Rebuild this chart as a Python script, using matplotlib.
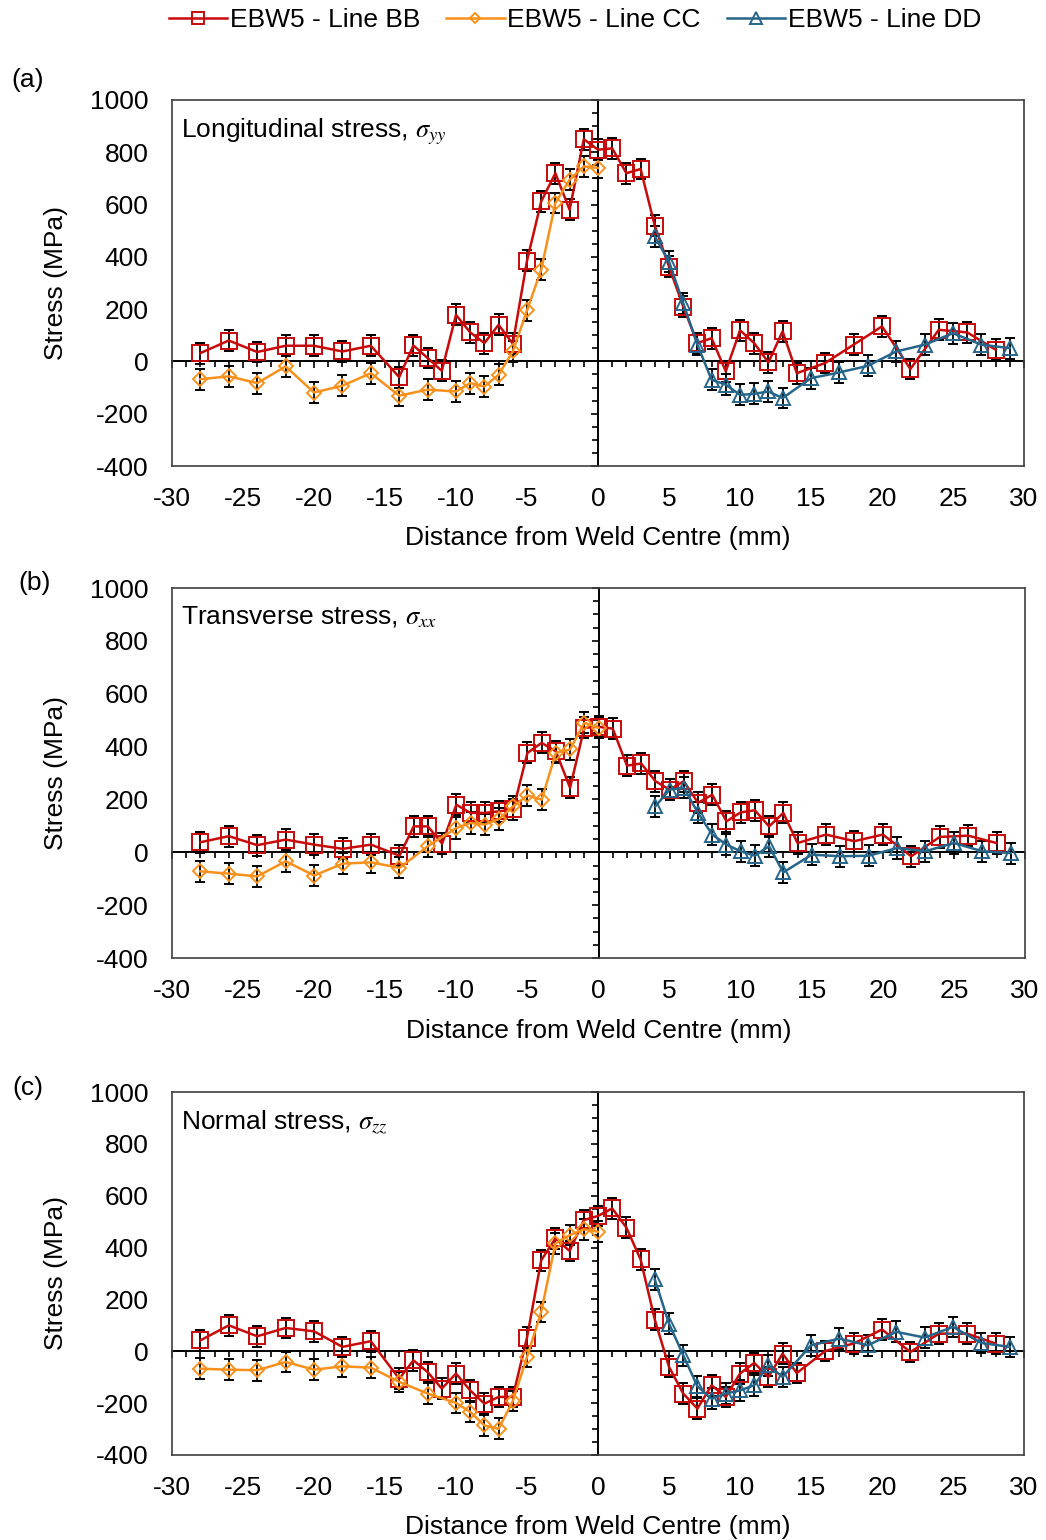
import matplotlib
matplotlib.use('Agg')
import matplotlib.pyplot as plt
from matplotlib.ticker import MultipleLocator

plt.rcParams['font.family'] = ['Liberation Sans', 'DejaVu Sans']
plt.rcParams['mathtext.fontset'] = 'stix'
plt.rcParams['axes.unicode_minus'] = False

# measurement positions (mm from weld centre)
bb_x = [-28, -26, -24, -22, -20, -18, -16, -14, -13, -12, -11, -10, -9, -8, -7, -6, -5, -4, -3, -2, -1,
        0, 1, 2, 3, 4, 5, 6, 7, 8, 9, 10, 11, 12, 13, 14, 16, 18, 20, 22, 24, 26, 28]
cc_x = [-28, -26, -24, -22, -20, -18, -16, -14, -12, -10, -9, -8, -7, -6, -5, -4, -3, -2, -1, 0]
dd_x = [4, 5, 6, 7, 8, 9, 10, 11, 12, 13, 15, 17, 19, 21, 23, 25, 27, 29]

# (a) longitudinal stress
a_bb = [32, 80, 36, 60, 60, 38, 60, -60, 61, 13, -36, 178, 111, 70, 140, 68, 385, 612, 720, 580, 850,
        810, 815, 720, 736, 519, 363, 210, 70, 89, -38, 119, 70, -4, 115, -45, -6, 64, 134, -29, 121, 111, 45]
a_cc = [-68, -57, -83, -19, -119, -93, -45, -131, -108, -115, -83, -96, -51, 38, 195, 351, 606, 695, 746, 740]
a_dd = [478, 382, 223, 64, -70, -89, -128, -124, -115, -140, -64, -42, -17, 38, 64, 108, 64, 51]

# (b) transverse stress
b_bb = [38, 61, 27, 48, 29, 13, 29, -13, 98, 98, 33, 180, 149, 149, 155, 162, 376, 414, 382, 244, 471,
        475, 468, 328, 336, 269, 237, 269, 187, 218, 117, 151, 159, 98, 149, 35, 67, 42, 67, -15, 58, 63, 35]
b_cc = [-72, -81, -91, -34, -88, -43, -38, -59, 23, 92, 111, 105, 126, 174, 215, 199, 376, 389, 490, 471]
b_dd = [174, 237, 244, 149, 67, 29, 4, -13, 23, -76, -9, -15, -13, 16, 4, 35, 4, -3]

# (c) normal stress
c_bb = [42, 100, 58, 90, 77, 17, 39, -106, -35, -80, -144, -86, -151, -202, -176, -176, 53, 351, 435, 387, 506,
        522, 551, 477, 354, 122, -60, -163, -221, -131, -176, -86, -45, -99, -9, -84, 1, 30, 84, -3, 68, 68, 30]
c_cc = [-67, -71, -73, -41, -71, -58, -63, -118, -163, -199, -234, -286, -299, -192, -22, 152, 416, 448, 470, 461]
c_dd = [277, 107, -15, -135, -183, -163, -151, -131, -54, -99, 23, 49, 23, 75, 53, 94, 32, 17]

err = 40  # MPa, error bar half-width

panels = [
    ('(a)', 'Longitudinal stress, $\\sigma_{yy}$', a_bb, a_cc, a_dd),
    ('(b)', 'Transverse stress, $\\sigma_{xx}$', b_bb, b_cc, b_dd),
    ('(c)', 'Normal stress, $\\sigma_{zz}$', c_bb, c_cc, c_dd),
]

W, H = 1046, 1540
# axes boxes in pixels: left, top, right, bottom
boxes = [(172, 100, 1024, 466), (172, 588, 1025, 958), (172, 1092, 1024, 1455)]
label_pos = [(28, 80), (35, 583), (28, 1088)]

col_bb = '#C80A0A'
col_cc = '#F8901C'
col_dd = '#25658A'
fs = 19

fig = plt.figure(figsize=(W / 100, H / 100), dpi=100)

handles = None
for (tag, title, ybb, ycc, ydd), (l, t, r, b), (lx, ly) in zip(panels, boxes, label_pos):
    rect = [l / W, 1 - b / H, (r - l) / W, (b - t) / H]
    ax = fig.add_axes(rect)
    ax.set_xlim(-30, 30)
    ax.set_ylim(-400, 1000)
    ax.xaxis.set_major_locator(MultipleLocator(5))
    ax.yaxis.set_major_locator(MultipleLocator(200))
    ax.tick_params(length=0, labelsize=fs)
    ax.tick_params(axis='x', pad=15)
    ax.tick_params(axis='y', pad=17)
    for s in ax.spines.values():
        s.set_color('#404040')
        s.set_linewidth(1.2)

    common = dict(mfc='none', ecolor='black', elinewidth=1.3, capsize=3.8, capthick=1.3, lw=1.8, mew=1.4)
    h1 = ax.errorbar(bb_x, ybb, yerr=err, color=col_bb, marker='s', ms=11, **common)
    h2 = ax.errorbar(cc_x, ycc, yerr=err, color=col_cc, marker='D', ms=7, **common)
    h3 = ax.errorbar(dd_x, ydd, yerr=err, color=col_dd, marker='^', ms=10, **common)
    handles = [h1[0], h2[0], h3[0]]

    ax.set_xlabel('Distance from Weld Centre (mm)', fontsize=fs)
    ax.xaxis.set_label_coords(0.5, -0.165)
    ax.set_ylabel('Stress (MPa)', fontsize=fs)
    ax.yaxis.set_label_coords(-0.122, 0.5)
    ax.text(0.01, 0.955, title, transform=ax.transAxes, fontsize=fs, va='top', ha='left')
    fig.text(lx / W, 1 - ly / H, tag, fontsize=fs, ha='center', va='center')

    # Excel-style axes crossing at zero
    ov = fig.add_axes(rect)
    ov.set_xlim(-30, 30)
    ov.set_ylim(-400, 1000)
    ov.patch.set_visible(False)
    ov.spines['top'].set_visible(False)
    ov.spines['right'].set_visible(False)
    ov.spines['left'].set_position(('data', 0))
    ov.spines['bottom'].set_position(('data', 0))
    ov.spines['left'].set_linewidth(1.4)
    ov.spines['bottom'].set_linewidth(1.4)
    ov.xaxis.set_major_locator(MultipleLocator(5))
    ov.xaxis.set_minor_locator(MultipleLocator(1))
    ov.yaxis.set_major_locator(MultipleLocator(200))
    ov.yaxis.set_minor_locator(MultipleLocator(50))
    ov.tick_params(which='both', direction='out', labelleft=False, labelbottom=False, width=1.2)
    ov.tick_params(which='major', length=5)
    ov.tick_params(which='minor', length=4)
    ov.set_zorder(ax.get_zorder() - 1)
    ax.patch.set_visible(False)

fig.legend(handles, ['EBW5 - Line BB', 'EBW5 - Line CC', 'EBW5 - Line DD'],
           loc='center', bbox_to_anchor=(575 / W, 1 - 20 / H), ncol=3, frameon=False,
           fontsize=fs, handlelength=2.2, handletextpad=0.1, columnspacing=1.0, markerscale=0.8)

fig.savefig('out.png', dpi=100, facecolor='white')
